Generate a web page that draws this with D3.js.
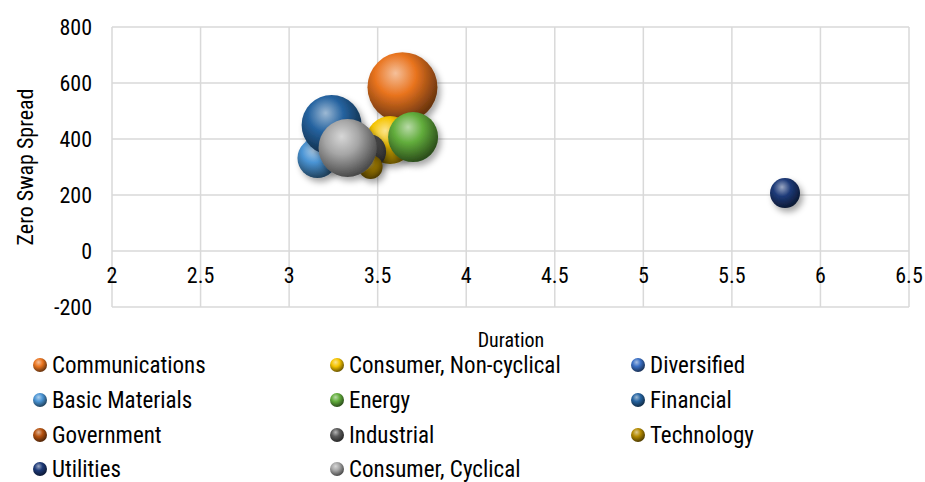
<!DOCTYPE html><html><head><meta charset="utf-8">
<script src="https://cdn.jsdelivr.net/npm/d3@7"></script>
<style>body{margin:0;background:#fff}text{font-family:"Liberation Sans Narrow","Roboto Condensed","Roboto",sans-serif;fill:#000;font-weight:400}</style>
</head><body><svg id="c" width="925" height="482"></svg>
<script>
const categories=["Communications","Consumer, Non-cyclical","Diversified","Basic Materials","Energy","Financial","Government","Industrial","Technology","Utilities","Consumer, Cyclical"];
const duration=[3.64,3.57,3.30,3.16,3.70,3.24,3.45,3.45,3.46,5.80,3.33];
const spread=[585,396,400,332,407,450,330,355,300,207,368];
const size=[1225,576,100,400,625,900,80,300,144,225,841];
const colors=["#e9741f","#f5c400","#3a6fc4","#4a94d4","#62ad3c","#2563a0","#b5520f","#5a5a5a","#b38a00","#1d3a78","#a6a6a6"];
const xTicks=[2,2.5,3,3.5,4,4.5,5,5.5,6,6.5];
const yTicks=[-200,0,200,400,600,800];
const svg=d3.select("#c");
const x=d3.scaleLinear().domain([2,6.5]).range([112,909]);
const y=d3.scaleLinear().domain([-200,800]).range([307,27]);
const r=d3.scaleSqrt().domain([0,1225]).range([0,35]);
const defs=svg.append("defs");
colors.forEach((c,i)=>{const g=defs.append("radialGradient").attr("id","g"+i).attr("cx","0.4").attr("cy","0.35").attr("r","0.65").attr("fx","0.4").attr("fy","0.3");
g.append("stop").attr("offset","0").attr("stop-color",d3.interpolateRgb(c,"#fff")(0.55));
g.append("stop").attr("offset","0.45").attr("stop-color",c);
g.append("stop").attr("offset","1").attr("stop-color",d3.interpolateRgb(c,"#000")(0.55));});
const sh=defs.append("filter").attr("id","sh").attr("x","-50%").attr("y","-50%").attr("width","200%").attr("height","200%");
sh.append("feDropShadow").attr("dx",3).attr("dy",4).attr("stdDeviation",3).attr("flood-opacity",0.35);
svg.append("g").selectAll("line").data(xTicks).join("line").attr("x1",d=>x(d)).attr("x2",d=>x(d)).attr("y1",27).attr("y2",307).attr("stroke","#d9d9d9").attr("stroke-width",1.5);
svg.append("g").selectAll("line").data(yTicks).join("line").attr("x1",112).attr("x2",909).attr("y1",d=>y(d)).attr("y2",d=>y(d)).attr("stroke","#d9d9d9").attr("stroke-width",1.5);
svg.append("g").selectAll("text").data(yTicks).join("text").attr("x",92).attr("y",d=>y(d)+8).attr("text-anchor","end").attr("font-size",22).text(d=>d);
svg.append("g").selectAll("text").data(xTicks).join("text").attr("x",d=>x(d)).attr("y",y(0)+32).attr("text-anchor","middle").attr("font-size",22).text(d=>d);
svg.append("text").attr("x",511).attr("y",347).attr("text-anchor","middle").attr("font-size",20).text("Duration");
svg.append("text").attr("transform","translate(33,167) rotate(-90)").attr("text-anchor","middle").attr("font-size",22).text("Zero Swap Spread");
svg.append("g").selectAll("circle").data(categories.map((c,i)=>i)).join("circle")
 .attr("cx",i=>x(duration[i])).attr("cy",i=>y(spread[i])).attr("r",i=>r(size[i])).attr("fill",i=>`url(#g${i})`).attr("filter","url(#sh)");
const lx=[40,337,638],ly=[365,400,435,469];
const lg=svg.append("g").selectAll("g").data(categories).join("g").attr("transform",(d,i)=>`translate(${lx[i%3]},${ly[Math.floor(i/3)]})`);
lg.append("circle").attr("r",7).attr("fill",(d,i)=>`url(#g${i})`);
lg.append("text").attr("x",12).attr("y",8).attr("font-size",23).text(d=>d);
</script></body></html>
